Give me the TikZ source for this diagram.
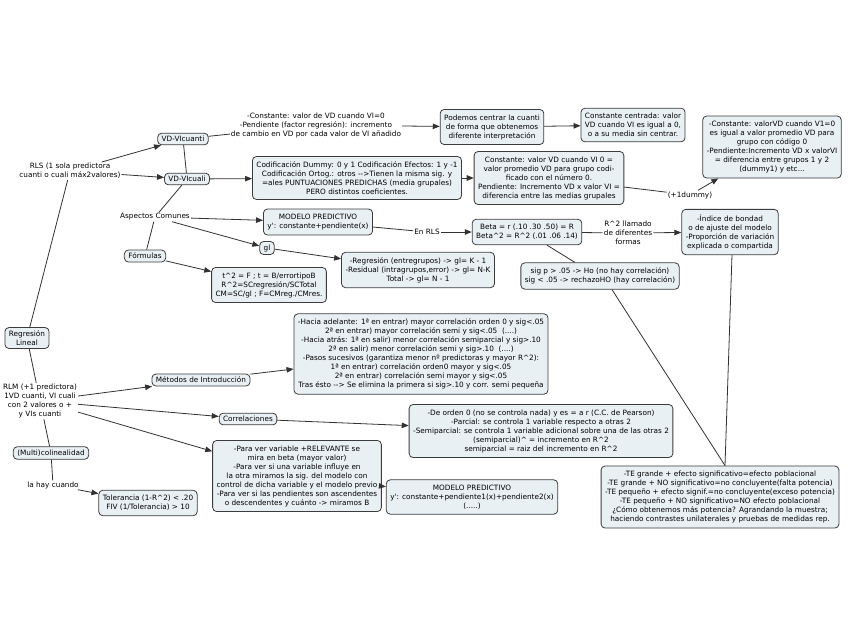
\documentclass[tikz,border=0pt]{standalone}
\usepackage{fontspec}
\setmainfont{DejaVu Sans}
\usetikzlibrary{arrows.meta}
\newcommand\myca{\textasciicircum}
\definecolor{boxfill}{RGB}{233,240,244}
\definecolor{boxline}{RGB}{60,60,60}
\definecolor{conn}{RGB}{50,50,50}
\tikzset{
  base/.style={font=\fontsize{7.3}{9}\selectfont, align=center, text=black},
  box/.style={base, draw=boxline, fill=boxfill, line width=0.8pt, rounded corners=4pt, inner xsep=4pt, inner ysep=3pt},
  mbox/.style={box, inner ysep=5pt},
  txt/.style={base, inner sep=1pt},
  ln/.style={draw=conn, line width=0.8pt},
  arr/.style={ln, -{Triangle[length=7pt,width=5.5pt]}}
}
\begin{document}
\begin{tikzpicture}[x=1pt,y=-1pt]
\useasboundingbox[fill=white] (0,0) rectangle (848,638);

\node[box] (cuanti) at (183,139) {VD-VIcuanti};
\node[box] (cuali) at (187,179) {VD-VIcuali};
\node[txt] (rls) at (70,171) {RLS (1 sola predictora\\cuanti o cuali máx2valores)};
\node[txt] (const) at (316,125) {-Constante: valor de VD cuando VI=0\\-Pendiente (factor regresión): incremento\\de cambio en VD por cada valor de VI añadido};
\node[mbox] (podemos) at (492,127) {Podemos centrar la cuanti\\de forma que obtenemos\\diferente interpretación};
\node[mbox] (centrada) at (633,125) {Constante centrada: valor\\VD cuando VI es igual a 0,\\o a su media sin centrar.};
\node[mbox] (codif) at (357,178) {Codificación Dummy: 0 y 1 Codificación Efectos: 1 y -1\\Codificación Ortog.: otros -{}->Tienen la misma sig. y\\=ales PUNTUACIONES PREDICHAS (media grupales)\\PERO distintos coeficientes.};
\node[mbox] (constvd) at (549,178) {Constante: valor VD cuando VI 0 =\\valor promedio VD para grupo codi-\\ficado con el número 0.\\Pendiente: Incremento VD x valor VI =\\diferencia entre las medias grupales};
\node[txt] (dummy) at (690,195) {(+1dummy)};
\node[mbox] (valorvd) at (772,147) {-Constante: valorVD cuando V1=0\\es igual a valor promedio VD para\\grupo con código 0\\-Pendiente:Incremento VD x valorVI\\= diferencia entre grupos 1 y 2\\(dummy1) y etc...};
\node[txt] (asp) at (155,217) {Aspectos Comunes};
\node[mbox] (modelo) at (318,222) {MODELO PREDICTIVO\\y\textquotesingle: constante+pendiente(x)};
\node[box] (gl) at (267,248) {gl};
\node[mbox] (regr) at (418,270) {-Regresión (entregrupos) -> gl= K - 1\\-Residual (intragrupos,error) -> gl= N-K\\Total -> gl= N - 1};
\node[box] (form) at (145,256) {Fórmulas};
\node[mbox] (t2) at (269,285) {t\myca2 = F ; t = B/errortipoB\\R\myca2=SCregresión/SCTotal\\CM=SC/gl ; F=CMreg./CMres.};
\node[txt] (enrls) at (427,232) {En RLS};
\node[mbox] (beta) at (527,232) {Beta = r (.10 .30 .50) = R\\Beta\myca2 = R\myca2 (.01 .06 .14)};
\node[txt] (r2) at (628,233) {R\myca2 llamado\\de diferentes\\formas};
\node[mbox] (indice) at (730,232) {-Índice de bondad\\o de ajuste del modelo\\-Proporción de variación\\explicada o compartida};
\node[mbox] (sig) at (600,276) {sig p > .05 -> Ho (no hay correlación)\\sig < .05 -> rechazoHO (hay correlación)};
\node[box] (reglin) at (27,338) {Regresión\\Lineal};
\node[txt] (rlm) at (40,401) {RLM (+1 predictora)\\1VD cuanti, VI cuali\\con 2 valores o +\\y VIs cuanti};
\node[box] (metodos) at (201,380) {Métodos de Introducción};
\node[mbox] (hacia) at (421,354) {-Hacia adelante: 1ª en entrar) mayor correlación orden 0 y sig<.05\\2ª en entrar) mayor correlación semi y sig<.05\ \ (....)\\-Hacia atrás: 1ª en salir) menor correlación semiparcial y sig>.10\\2ª en salir) menor correlación semi y sig>.10\ \ (....)\\-Pasos sucesivos (garantiza menor nº predictoras y mayor R\myca2):\\1ª en entrar) correlación orden0 mayor y sig<.05\\2ª en entrar) correlación semi mayor y sig<.05\\Tras ésto -{}-> Se elimina la primera si sig>.10 y corr. semi pequeña};
\node[box] (corr) at (248,419) {Correlaciones};
\node[mbox] (orden) at (541,431) {-De orden 0 (no se controla nada) y es = a r (C.C. de Pearson)\\-Parcial: se controla 1 variable respecto a otras 2\\-Semiparcial: se controla 1 variable adicional sobre una de las otras 2\\(semiparcial)\myca{} = incremento en R\myca2\\semiparcial = raiz del incremento en R\myca2};
\node[mbox] (paraver) at (297,476) {-Para ver variable +RELEVANTE se\\mira en beta (mayor valor)\\-Para ver si una variable influye en\\la otra miramos la sig. del modelo con\\control de dicha variable y el modelo previo\\-Para ver si las pendientes son ascendentes\\o descendentes y cuánto -> miramos B};
\node[mbox] (modelo2) at (472,497) {MODELO PREDICTIVO\\y\textquotesingle: constante+pendiente1(x)+pendiente2(x)\\(.....)};
\node[box] (multi) at (51,453) {(Multi)colinealidad};
\node[txt] (lahay) at (53,485) {la hay cuando};
\node[mbox] (tol) at (148,503) {Tolerancia (1-R\myca2) < .20\\FIV (1/Tolerancia) > 10};
\node[mbox] (te) at (720,497) {-TE grande + efecto significativo=efecto poblacional\\-TE grande + NO significativo=no concluyente(falta potencia)\\-TE pequeño + efecto signif.=no concluyente(exceso potencia)\\-TE pequeño + NO significativo=NO efecto poblacional\\¿Cómo obtenemos más potencia? Agrandando la muestra;\\haciendo contrastes unilaterales y pruebas de medidas rep.};

% connectors
\draw[arr] (rls) -- (cuanti);
\draw[arr] (rls) -- (cuali);
\draw[ln] (cuanti) -- (cuali);
\draw[ln] (cuanti) -- (const);
\draw[arr] (const) -- (podemos);
\draw[arr] (podemos) -- (centrada);
\draw[arr] (cuali) -- (codif);
\draw[arr] (codif) -- (constvd);
\draw[ln] (constvd) -- (dummy);
\draw[arr] (dummy) -- (valorvd);
\draw[ln] (cuali) -- (asp);
\draw[arr] (asp) -- (modelo);
\draw[arr] (asp) -- (gl);
\draw[ln] (asp) -- (form);
\draw[arr] (gl) -- (regr);
\draw[arr] (form) -- (t2);
\draw[ln] (modelo) -- (enrls);
\draw[arr] (enrls) -- (beta);
\draw[ln] (beta) -- (r2);
\draw[arr] (r2) -- (indice);
\draw[ln] ([xshift=20pt]beta.south) -- ([xshift=-25pt]sig.north);
\draw[ln] ([xshift=12pt]sig.south) -- ([xshift=5pt]te.north);
\draw[ln] ([xshift=2pt]indice.south) -- ([xshift=5pt]te.north);
\draw[ln] (rls) -- (reglin);
\draw[ln] (reglin) -- (rlm);
\draw[arr] (rlm) -- (metodos);
\draw[arr] (rlm) -- (corr);
\draw[arr] (rlm) -- (paraver);
\draw[ln] (rlm) -- (multi);
\draw[arr] (metodos) -- (hacia);
\draw[arr] (corr) -- (orden);
\draw[arr] (paraver) -- (modelo2);
\draw[ln] (multi) -- (lahay);
\draw[arr] (lahay) -- (tol);
\end{tikzpicture}
\end{document}
